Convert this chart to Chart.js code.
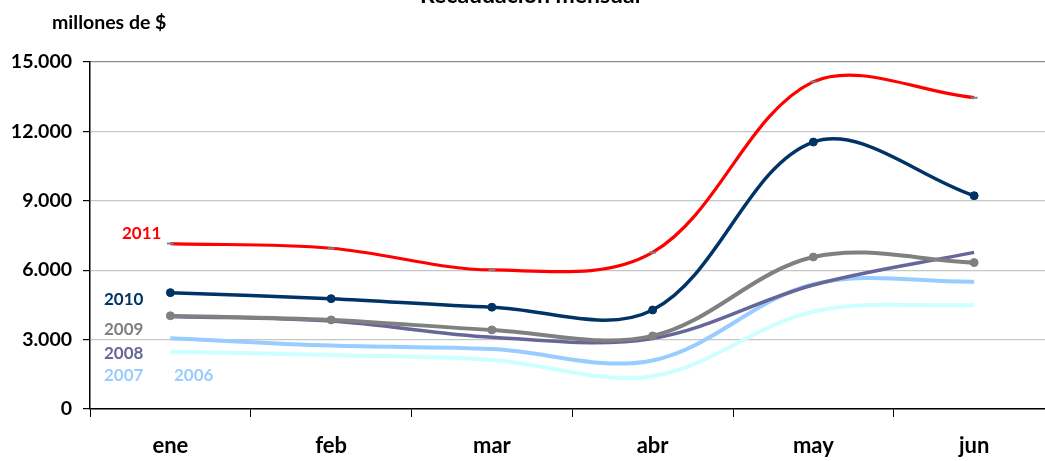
<!DOCTYPE html>
<html lang="es">
<head>
<meta charset="utf-8">
<title>Recaudación mensual</title>
<script src="https://cdn.jsdelivr.net/npm/chart.js@4.4.1/dist/chart.umd.min.js"></script>
<style>
    html, body { margin: 0; padding: 0; background: #fff; overflow: hidden; }
    .chart-container { position: relative; width: 1060px; height: 461px; }
</style>
</head>
<body>
<div class="chart-container">
    <canvas id="recaudacion"></canvas>
</div>
<script>
// millones de $, por mes
const months = ['ene', 'feb', 'mar', 'abr', 'may', 'jun'];
const years = ['2011', '2010', '2009', '2008', '2007', '2006'];

const rec2011 = [7150, 6950, 6010, 6770, 14150, 13460];
const rec2010 = [5030, 4770, 4400, 4280, 11540, 9220];
const rec2009 = [4030, 3850, 3420, 3160, 6570, 6330];
const rec2008 = [4000, 3800, 3100, 3050, 5360, 6770];
const rec2007 = [3060, 2740, 2590, 2100, 5390, 5500];
const rec2006 = [2480, 2330, 2120, 1420, 4210, 4500];

const yTicks = [0, 3000, 6000, 9000, 12000, 15000];

const FONT = 'Lato, "Open Sans", sans-serif';

const formatMiles = (v) => String(v).replace(/\B(?=(\d{3})+(?!\d))/g, '.');

// texts that are not part of the scales: title, unit and the year labels
const annotations = {
    id: 'annotations',
    afterDraw(chart) {
        const ctx = chart.ctx;
        ctx.save();
        ctx.textBaseline = 'alphabetic';
        ctx.fillStyle = '#000';
        ctx.font = `bold 23px ${FONT}`;
        ctx.textAlign = 'left';
        ctx.fillText('Recaudación mensual', 420, 3);

        ctx.font = `bold 19.5px ${FONT}`;
        ctx.fillText('millones de $', 52, 29);

        const spots = {
            '2011': { x: 122, y: 234, color: '#ff0000' },
            '2010': { x: 104, y: 300, color: '#003366' },
            '2009': { x: 104, y: 330, color: '#808080' },
            '2008': { x: 104, y: 354, color: '#666699' },
            '2007': { x: 104, y: 376, color: '#99ccff' },
            '2006': { x: 174, y: 376, color: '#99ccff' },
        };
        ctx.font = `bold 17px ${FONT}`;
        ctx.textBaseline = 'middle';
        years.forEach(yr => {
            const s = spots[yr];
            ctx.fillStyle = s.color;
            ctx.fillText(yr, s.x, s.y);
        });
        ctx.restore();
    }
};

const series = [
    { label: '2011', data: rec2011, color: '#ff0000', width: 3.2, point: 'line', radius: 3.5, pointColor: '#808080' },
    { label: '2010', data: rec2010, color: '#003366', width: 3.5, point: 'circle', radius: 4, pointColor: '#003366' },
    { label: '2009', data: rec2009, color: '#808080', width: 4, point: 'circle', radius: 4, pointColor: '#808080' },
    { label: '2008', data: rec2008, color: '#666699', width: 3.5, point: 'circle', radius: 0, pointColor: '#666699' },
    { label: '2007', data: rec2007, color: '#99ccff', width: 4, point: 'circle', radius: 0, pointColor: '#99ccff' },
    { label: '2006', data: rec2006, color: '#ccffff', width: 4, point: 'circle', radius: 0, pointColor: '#ccffff' },
];

new Chart(document.getElementById('recaudacion'), {
    type: 'line',
    data: {
        labels: months,
        datasets: series.map(s => ({
            label: s.label,
            data: s.data,
            borderColor: s.color,
            borderWidth: s.width,
            backgroundColor: s.pointColor,
            pointStyle: s.point,
            pointRadius: s.radius,
            pointBorderColor: s.pointColor,
            pointBackgroundColor: s.pointColor,
            pointBorderWidth: s.point === 'line' ? 2 : 1,
            pointHoverRadius: s.radius,
            tension: 0.35,
            fill: false,
        }))
    },
    options: {
        responsive: true,
        maintainAspectRatio: false,
        animation: false,
        layout: { padding: { top: 62, right: 3, left: 0, bottom: 0 } },
        plugins: {
            legend: { display: false },
            tooltip: { enabled: false },
        },
        scales: {
            x: {
                offset: true,
                afterFit: (scale) => { scale.height = 52; },
                grid: {
                    offset: true,
                    drawOnChartArea: false,
                    drawTicks: true,
                    tickLength: 8,
                    tickColor: '#000',
                },
                border: { display: true, color: '#000', width: 1.5 },
                ticks: {
                    color: '#000',
                    padding: 16,
                    maxRotation: 0,
                    font: { family: FONT, size: 22, weight: 'bold' },
                },
            },
            y: {
                min: 0,
                max: 15000,
                afterFit: (scale) => { scale.width = 90; },
                afterBuildTicks: (scale) => { scale.ticks = yTicks.map(v => ({ value: v })); },
                grid: {
                    color: (ctx) => (ctx.tick && ctx.tick.value === 15000 ? '#8c8c8c' : '#c6c6c6'),
                    lineWidth: 1.2,
                    drawTicks: true,
                    tickLength: 7,
                    tickColor: '#000',
                },
                border: { display: true, color: '#000', width: 1.5 },
                ticks: {
                    color: '#000',
                    padding: 11,
                    font: { family: FONT, size: 19.5, weight: 'bold' },
                    callback: (value) => formatMiles(value),
                },
            },
        },
    },
    plugins: [annotations],
});
</script>
</body>
</html>
